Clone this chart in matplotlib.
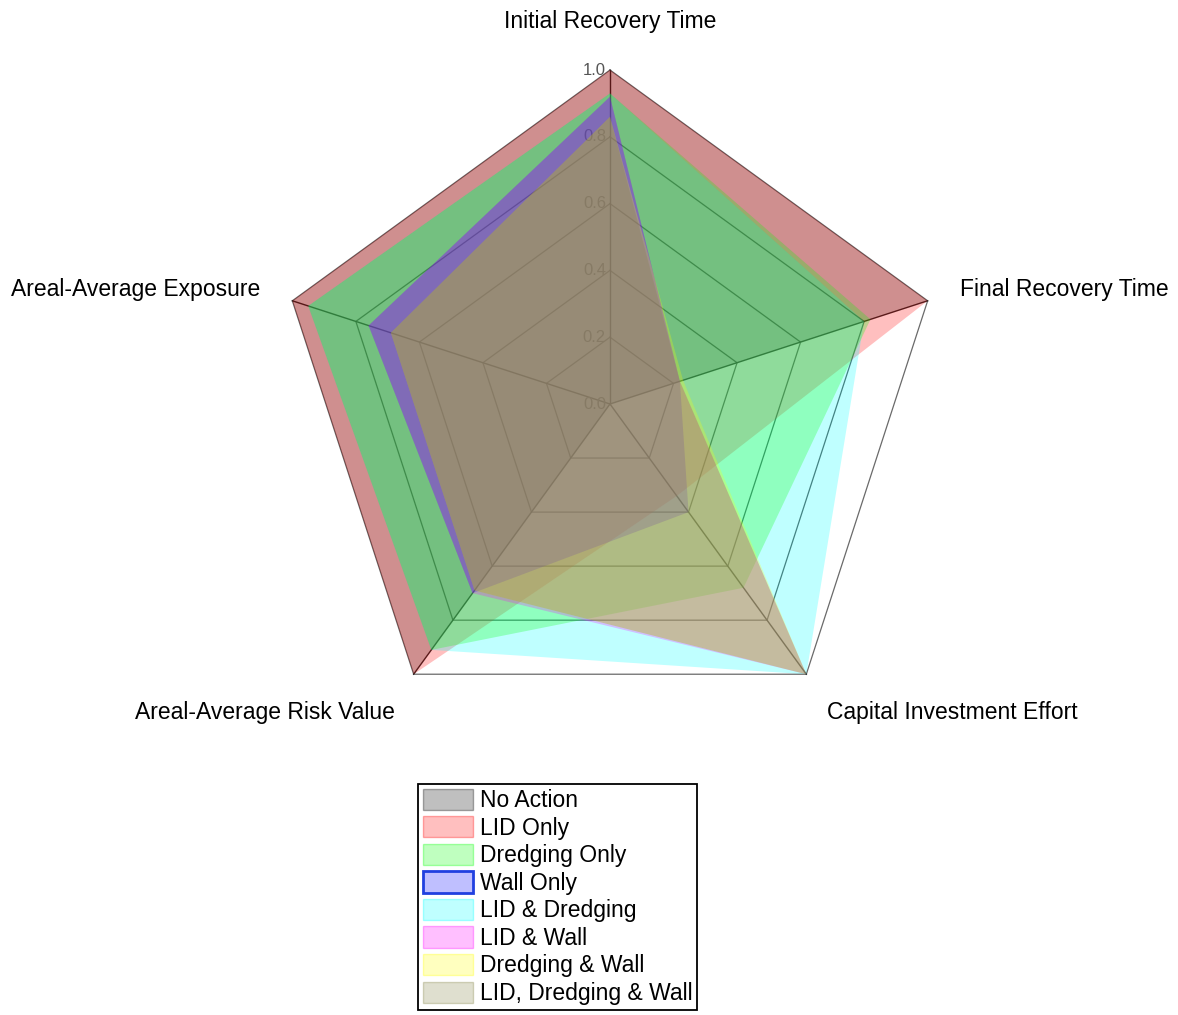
import numpy as np
import matplotlib
matplotlib.use("Agg")
import matplotlib.pyplot as plt
from matplotlib.patches import Patch

plt.rcParams['font.family'] = ['Liberation Sans', 'DejaVu Sans']

# Criteria (spokes, clockwise from the top)
criteria = ["Initial Recovery Time", "Final Recovery Time", "Capital Investment Effort",
            "Areal-Average Risk Value", "Areal-Average Exposure"]

# Normalised scores per scenario, in the criteria order above
scenarios = ["No Action", "LID Only", "Dredging Only", "Wall Only", "LID & Dredging",
             "LID & Wall", "Dredging & Wall", "LID, Dredging & Wall"]
no_action = [1.00, 1.00, 0.00, 1.00, 1.00]
lid_only = [1.00, 1.00, 0.34, 1.00, 1.00]
dredging_only = [0.93, 0.82, 0.68, 0.91, 0.95]
wall_only = [0.92, 0.22, 0.40, 0.70, 0.76]
lid_dredging = [0.93, 0.80, 1.00, 0.91, 0.95]
lid_wall = [0.92, 0.22, 1.00, 0.70, 0.76]
dredging_wall = [0.86, 0.23, 1.00, 0.69, 0.69]
lid_dredging_wall = [0.86, 0.22, 1.00, 0.69, 0.69]

series = [no_action, lid_only, dredging_only, wall_only, lid_dredging,
          lid_wall, dredging_wall, lid_dredging_wall]
colors = ["#000000", "#ff0000", "#00ff00", "#0000ff", "#00ffff",
          "#ff00ff", "#ffff00", "#808040"]
# painting order of the translucent fills
draw_order = [0, 1, 4, 2, 3, 5, 6, 7]

ticks = [0.0, 0.2, 0.4, 0.6, 0.8, 1.0]
tick_labels = ["0.0", "0.2", "0.4", "0.6", "0.8", "1.0"]

n = len(criteria)
theta = np.pi / 2 - 2 * np.pi * np.arange(n) / n


def polygon(values):
    r = np.asarray(values, dtype=float)
    x = r * np.cos(theta)
    y = r * np.sin(theta)
    return np.append(x, x[0]), np.append(y, y[0])


fig = plt.figure(figsize=(11.78, 10.15), dpi=100)
ax = fig.add_axes([0, 0, 1, 1])
ax.set_xlim(-1.8263, 1.7006)
ax.set_ylim(-1.8293, 1.2096)
ax.axis("off")

# web: rings and spokes
for t in ticks[1:]:
    gx, gy = polygon([t] * n)
    ax.plot(gx, gy, color="#5a5a5a" if t < 1 else "#6a6a6a", lw=0.9, zorder=1)
for k in range(n):
    ax.plot([0, np.cos(theta[k])], [0, np.sin(theta[k])], color="#2a2a2a", lw=1.0, zorder=1)

# radial tick labels along the first spoke
for t, lab in zip(ticks, tick_labels):
    ax.text(-0.012, t, lab, ha="right", va="center", fontsize=12, color="#555555", zorder=1.5)

# scenario fills
for i in draw_order:
    px, py = polygon(series[i])
    ax.fill(px, py, facecolor=colors[i], alpha=0.25, edgecolor="none", zorder=2)

# criteria labels
fs = 16.5
ax.text(0.0, 1.1467, criteria[0], ha="center", va="center", fontsize=fs)
ax.text(1.048, 0.344, criteria[1], ha="left", va="center", fontsize=fs)
ax.text(0.6497, -0.925, criteria[2], ha="left", va="center", fontsize=fs)
ax.text(-0.6437, -0.925, criteria[3], ha="right", va="center", fontsize=fs)
ax.text(-1.048, 0.344, criteria[4], ha="right", va="center", fontsize=fs)

# legend
handles = []
for i, name in enumerate(scenarios):
    face = matplotlib.colors.to_rgba(colors[i], 0.25)
    if name == "Wall Only":
        edge, lw = "#2040e0", 2.0
    else:
        edge, lw = matplotlib.colors.to_rgba(colors[i], 0.32), 1.0
    handles.append(Patch(facecolor=face, edgecolor=edge, linewidth=lw, label=name))

leg = fig.legend(handles=handles, loc="upper center", bbox_to_anchor=(0.4733, 0.2276),
                 fontsize=fs, frameon=True, fancybox=False, framealpha=1,
                 edgecolor="black", handlelength=2.2, handleheight=1.05,
                 handletextpad=0.3, labelspacing=0.18, borderpad=0.2,
                 borderaxespad=0.0)
leg.get_frame().set_linewidth(1.3)

fig.savefig("out.png", dpi=100)
